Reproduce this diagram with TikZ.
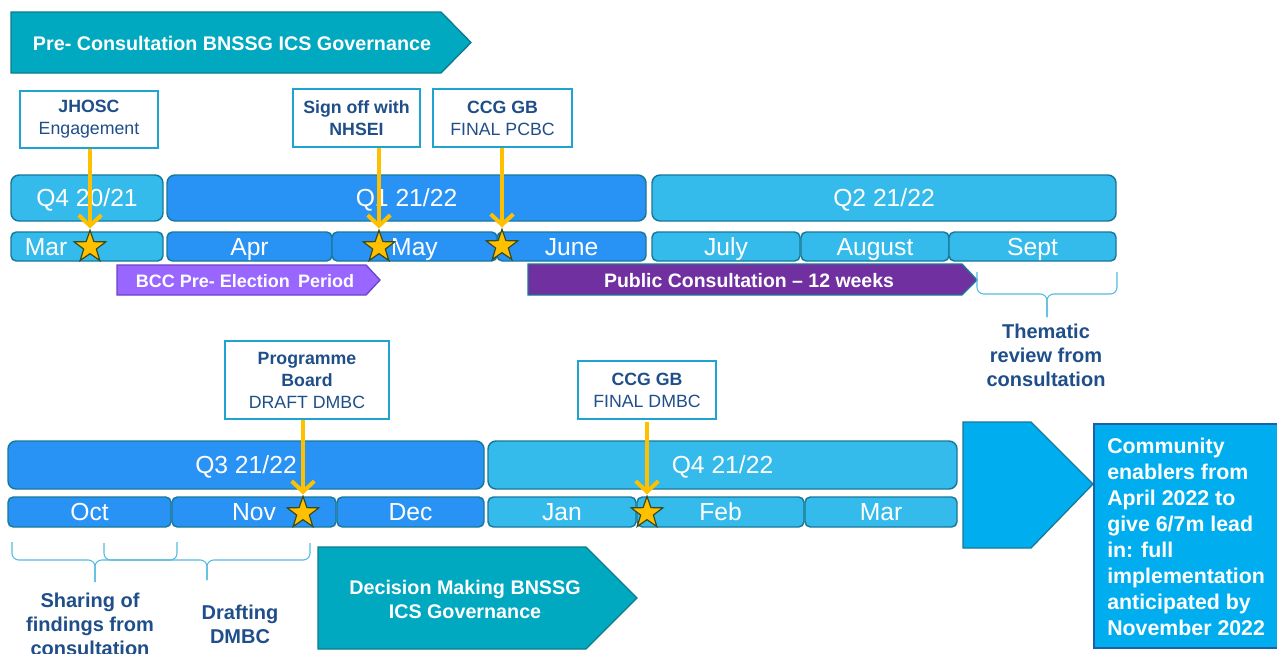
\documentclass[tikz,border=0pt]{standalone}
\usepackage{fontspec}
\setmainfont{Liberation Sans}
\usetikzlibrary{arrows.meta,shapes.geometric}

\definecolor{govteal}{HTML}{00A8C0}
\definecolor{govedge}{HTML}{0B7C8E}
\definecolor{qlight}{HTML}{35BBEB}
\definecolor{qdark}{HTML}{2993F5}
\definecolor{qedge}{HTML}{17799A}
\definecolor{bccpurple}{HTML}{9966FF}
\definecolor{bccedge}{HTML}{6A45C8}
\definecolor{pubpurple}{HTML}{7030A0}
\definecolor{navy}{HTML}{1F4E89}
\definecolor{boxedge}{HTML}{1FA3D3}
\definecolor{pinyellow}{HTML}{FFC000}
\definecolor{starrim}{HTML}{3A4A1C}
\definecolor{enabler}{HTML}{00AEEF}
\definecolor{enabedge}{HTML}{1F5FA8}
\definecolor{bracecol}{HTML}{55B9E3}

\begin{document}
\begin{tikzpicture}[x=0.75pt,y=-0.75pt,
    mtxt/.style={text=white,inner sep=0pt,text height=13.25pt,text depth=0pt,
        font=\fontsize{18.5}{20}\selectfont},
    qtr/.style={draw=qedge,line width=1.1pt,rounded corners=6pt,nodes={mtxt}},
    mon/.style={qtr,rounded corners=4pt},
    callout/.style={draw=boxedge,line width=1.2pt,fill=white,text=navy,align=center,
        inner sep=0pt,font=\fontsize{13.3}{16.5}\selectfont},
    chevron/.style={line width=1pt},
    bandtxt/.style={text=white,inner sep=0pt,align=center,font=\bfseries\fontsize{14}{18}\selectfont},
    note/.style={text=navy,inner sep=0pt,align=center,font=\bfseries\fontsize{15}{18}\selectfont},
    pin/.style={draw=pinyellow,line width=3pt,-{Straight Barb[length=8pt,width=17pt]}},
    pinstar/.style={star,star points=5,star point ratio=2.5,minimum size=25pt,inner sep=0pt,
        fill=pinyellow,draw=starrim,line width=0.9pt},
    gbrace/.style={draw=bracecol,line width=0.8pt,rounded corners=5pt}]

    \path[fill=white,use as bounding box] (0,0) rectangle (1277,653);

    \draw[chevron,fill=govteal,draw=govedge] (11,12) -- (441,12) -- (471,42.5) -- (441,73) -- (11,73) -- cycle;
    \node[bandtxt,font=\bfseries\fontsize{14.8}{18}\selectfont] (pregov) at (232,43) {Pre- Consultation BNSSG ICS Governance};

    \draw[qtr,fill=qlight] (11,175) rectangle (163,221) node[midway] (q4a) {Q4 20/21};
    \draw[qtr,fill=qdark] (167,175) rectangle (646,221) node[midway] (q1) {Q1 21/22};
    \draw[qtr,fill=qlight] (652,175) rectangle (1116,221) node[midway] (q2) {Q2 21/22};

    \draw[mon,fill=qlight] (11,232) rectangle (163,261);
    \node[mtxt] (mar) at (46,246.5) {Mar};
    \draw[mon,fill=qdark] (167,232) rectangle (332,261) node[midway] (apr) {Apr};
    \draw[mon,fill=qdark] (332,232) rectangle (497,261) node[midway] (may) {May};
    \draw[mon,fill=qdark] (497,232) rectangle (646,261) node[midway] (june) {June};
    \draw[mon,fill=qlight] (652,232) rectangle (800,261) node[midway] (july) {July};
    \draw[mon,fill=qlight] (801,232) rectangle (949,261) node[midway] (aug) {August};
    \draw[mon,fill=qlight] (949,232) rectangle (1116,261) node[midway] (sept) {Sept};

    \draw[chevron,fill=bccpurple,draw=bccedge] (117,265) -- (366,265) -- (380,280) -- (366,295) -- (117,295) -- cycle;
    \node[bandtxt,font=\bfseries\fontsize{13.5}{16}\selectfont] (bcc) at (245,281) {BCC Pre- Election\, Period};
    \draw[chevron,fill=pubpurple,draw=qedge] (528,264) -- (962,264) -- (977,280) -- (962,295) -- (528,295) -- cycle;
    \node[bandtxt,font=\bfseries\fontsize{14.6}{18}\selectfont] (public) at (749,281) {Public Consultation -- 12 weeks};

    \draw[gbrace] (977,272) -- (977,294) -- (1047,294) -- (1047,317);
    \draw[gbrace] (1117,272) -- (1117,294) -- (1047,294) -- (1047,317);
    \node[note] (thematic) at (1046,355) {Thematic\\review from\\consultation};

    \node[callout,minimum width=103.5pt,minimum height=42.75pt] (jhosc) at (89,119.5) {\textbf{JHOSC}\\Engagement};
    \node[callout,minimum width=95.25pt,minimum height=43.5pt] (nhsei) at (356.5,118) {\textbf{Sign off with}\\\textbf{NHSEI}};
    \node[callout,minimum width=104.25pt,minimum height=43.5pt] (ccgp) at (502.5,118) {\textbf{CCG GB}\\FINAL PCBC};

    \draw[qtr,fill=qdark] (8,441) rectangle (484,489) node[midway] (q3) {Q3 21/22};
    \draw[qtr,fill=qlight] (488,441) rectangle (957,489) node[midway] (q4b) {Q4 21/22};

    \draw[mon,fill=qdark] (8,497) rectangle (171,527) node[midway] (oct) {Oct};
    \draw[mon,fill=qdark] (172,497) rectangle (336,527) node[midway] (nov) {Nov};
    \draw[mon,fill=qdark] (337,497) rectangle (484,527) node[midway] (dec) {Dec};
    \draw[mon,fill=qlight] (488,497) rectangle (636,527) node[midway] (jan) {Jan};
    \draw[mon,fill=qlight] (637,497) rectangle (804,527) node[midway] (feb) {Feb};
    \draw[mon,fill=qlight] (805,497) rectangle (957,527) node[midway] (marb) {Mar};

    \node[callout,minimum width=123pt,minimum height=58.5pt] (prog) at (307,380) {\textbf{Programme}\\\textbf{Board}\\DRAFT DMBC};
    \node[callout,minimum width=103.5pt,minimum height=43.5pt] (ccgd) at (647,390) {\textbf{CCG GB}\\FINAL DMBC};

    \draw[gbrace] (12,542) -- (12,560) -- (95,560) -- (95,582);
    \draw[gbrace] (177,542) -- (177,560) -- (95,560) -- (95,582);
    \draw[gbrace] (104,543) -- (104,560) -- (207,560) -- (207,580);
    \draw[gbrace] (310,543) -- (310,560) -- (207,560) -- (207,580);
    \node[note] (sharing) at (90,624) {Sharing of\\findings from\\consultation};
    \node[note] (drafting) at (240,624) {Drafting\\DMBC};

    \draw[chevron,fill=govteal,draw=govedge] (318,547) -- (586,547) -- (637,598) -- (586,649) -- (318,649) -- cycle;
    \node[bandtxt,font=\bfseries\fontsize{14.8}{18}\selectfont] (decgov) at (465,599) {Decision Making BNSSG\\ICS Governance};

    \draw[chevron,fill=enabler,draw=qedge] (963,422) -- (1031,422) -- (1093,484) -- (1031,548) -- (963,548) -- cycle;
    \draw[chevron,fill=enabler,draw=enabedge] (1094,424) rectangle (1290,648);
    \node[text=white,inner sep=0pt,align=left,anchor=west,font=\bfseries\fontsize{16}{19.5}\selectfont] (enablers) at (1107,537)
        {Community\\enablers from\\April 2022 to\\give 6/7m lead\\in: full\\implementation\\anticipated by\\November 2022};

    \node[pinstar] (s1) at (90,247) {};
    \node[pinstar] (s2) at (379,247) {};
    \node[pinstar] (s3) at (502,246) {};
    \node[pinstar] (s4) at (303,513) {};
    \node[pinstar] (s5) at (647,513) {};

    \draw[pin] (s1.north |- jhosc.south) -- (s1.north);
    \draw[pin] (s2.north |- nhsei.south) -- (s2.north);
    \draw[pin] (s3.north |- ccgp.south) -- (s3.north);
    \draw[pin] (s4.north |- prog.south) -- (s4.north);
    \draw[pin] ([yshift=-2pt]s5.north |- ccgd.south) -- (s5.north);

\end{tikzpicture}
\end{document}
